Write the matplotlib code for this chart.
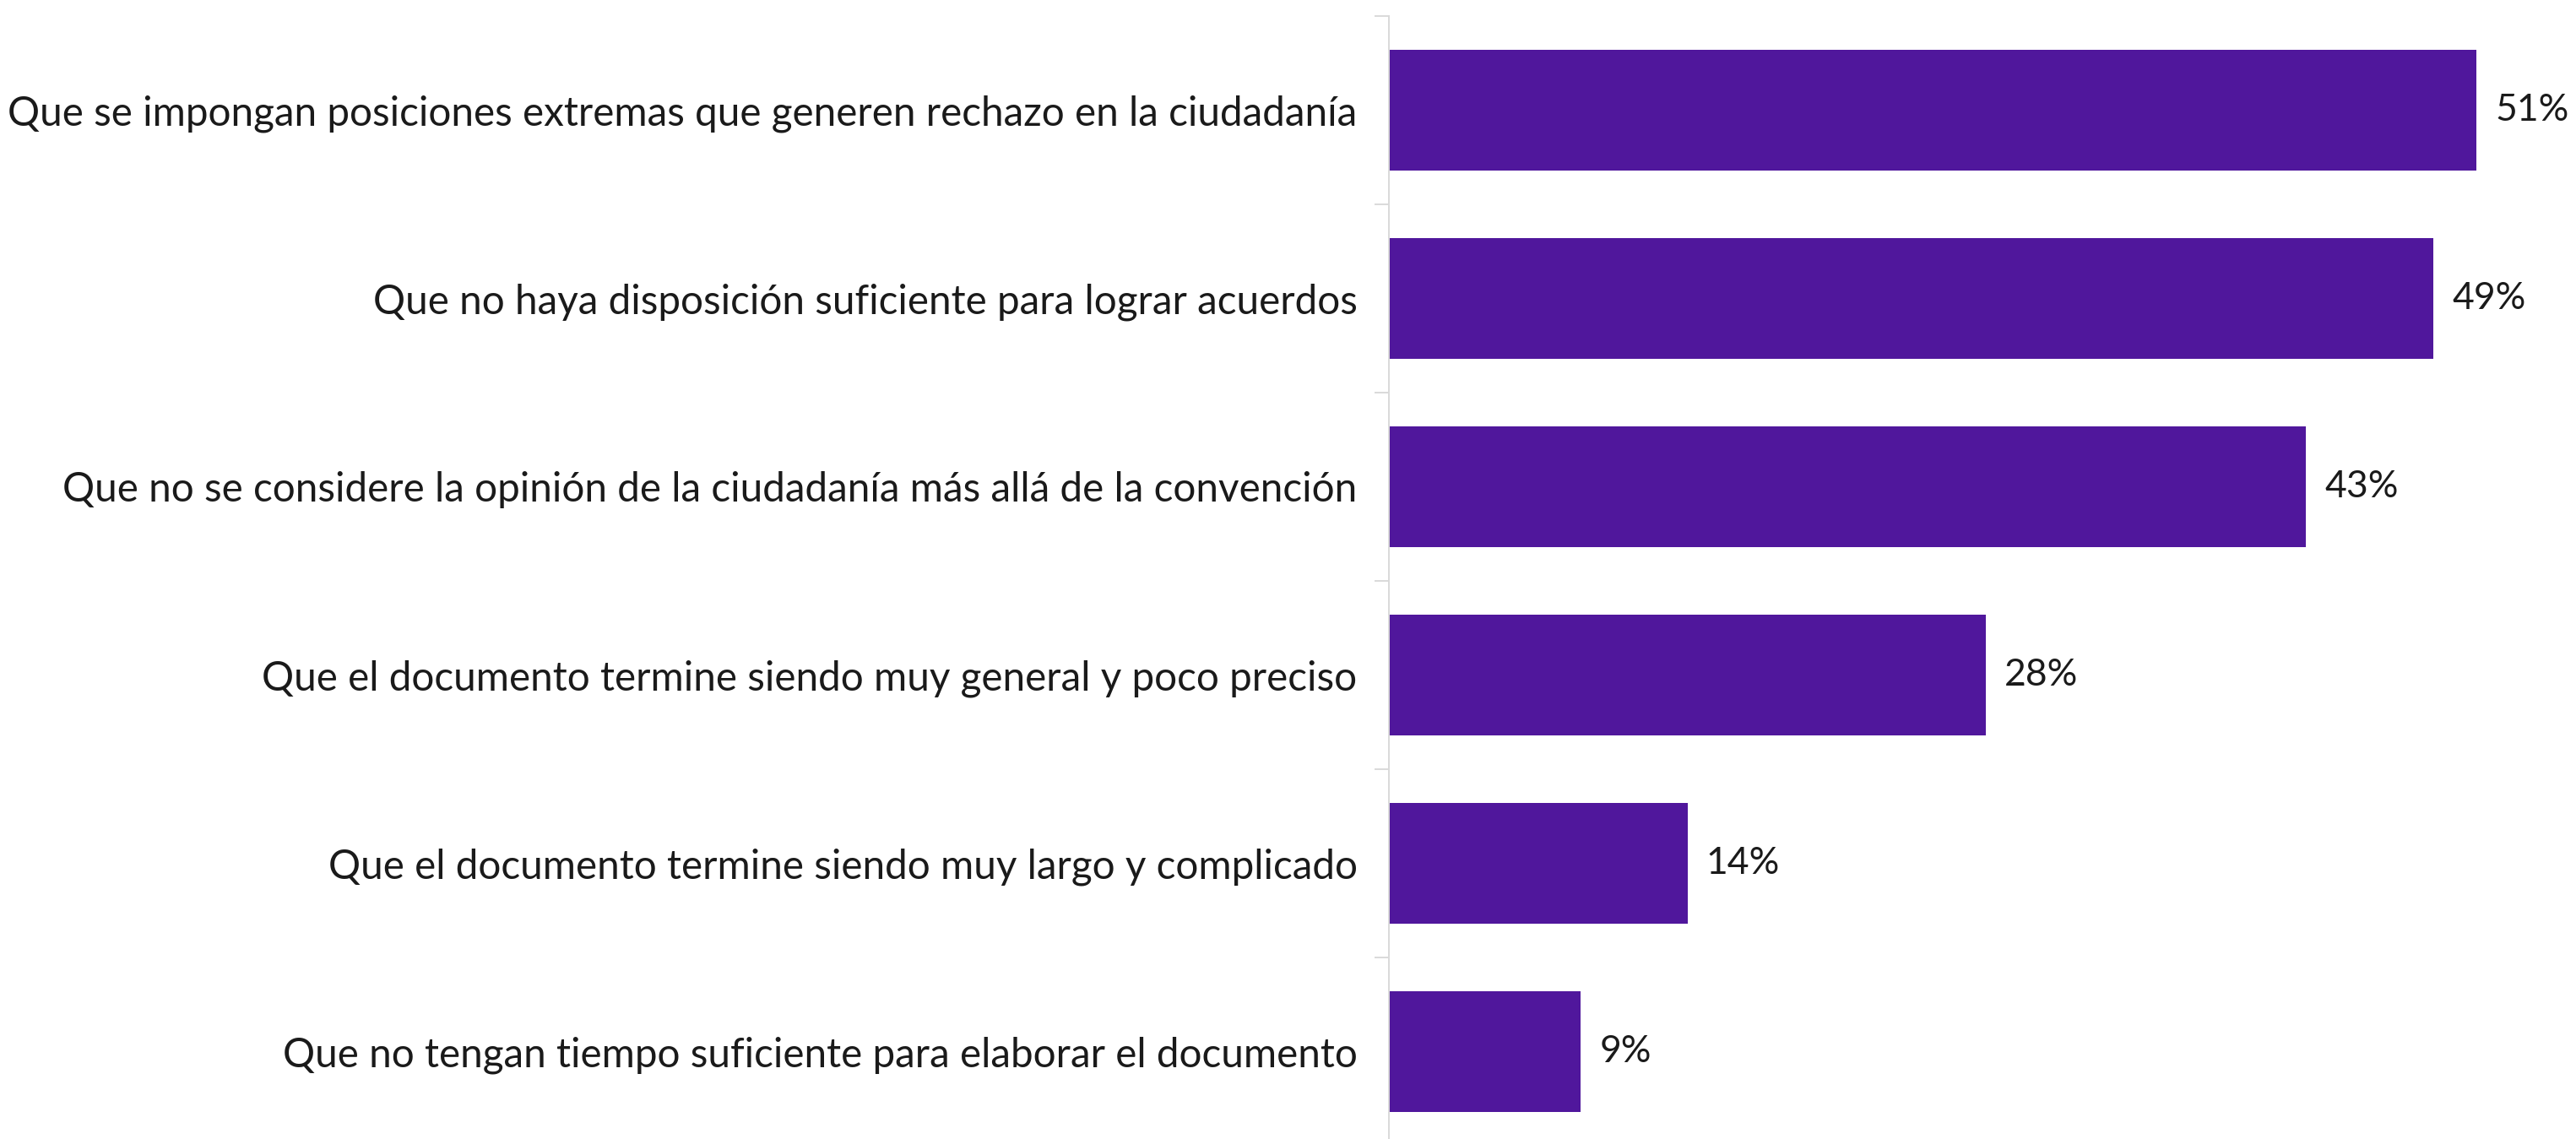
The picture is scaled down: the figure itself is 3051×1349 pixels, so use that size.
import numpy as np
import matplotlib.pyplot as plt

categories = [
    "Que se impongan posiciones extremas que generen rechazo en la ciudadanía",
    "Que no haya disposición suficiente para lograr acuerdos",
    "Que no se considere la opinión de la ciudadanía más allá de la convención",
    "Que el documento termine siendo muy general y poco preciso",
    "Que el documento termine siendo muy largo y complicado",
    "Que no tengan tiempo suficiente para elaborar el documento",
]
values = [51, 49, 43, 28, 14, 9]
value_labels = [f"{v}%" for v in values]

W, H = 3051, 1349
fig = plt.figure(figsize=(W / 100, H / 100), dpi=100)
# axis spans from y=19 px down past the bottom edge of the image
ax = fig.add_axes([1645 / W, -8 / H, 1389 / W, (1357 - 19) / H])

plt.rcParams["font.family"] = ["Lato", "DejaVu Sans"]

y = np.arange(len(categories))
bars = ax.barh(y, values, height=0.64, color="#50179C")
ax.bar_label(bars, labels=value_labels, padding=16, fontsize=32,
             color="#1a1a1a", family="Lato")

ax.set_xlim(0, 55)
ax.set_ylim(len(categories) - 0.5, -0.5)

ax.set_yticks(y)
ax.set_yticklabels(categories, fontsize=34.3, color="#1a1a1a", family="Lato")
ax.tick_params(axis="y", which="major", length=0, pad=27)
ax.set_yticks(np.arange(-0.5, len(categories)), minor=True)
ax.tick_params(axis="y", which="minor", length=12, width=1.4, color="#d9d9d9")

ax.set_xticks([])
for s in ["top", "right", "bottom"]:
    ax.spines[s].set_visible(False)
ax.spines["left"].set_color("#d9d9d9")
ax.spines["left"].set_linewidth(1.4)

fig.savefig("out.png", dpi=100)
